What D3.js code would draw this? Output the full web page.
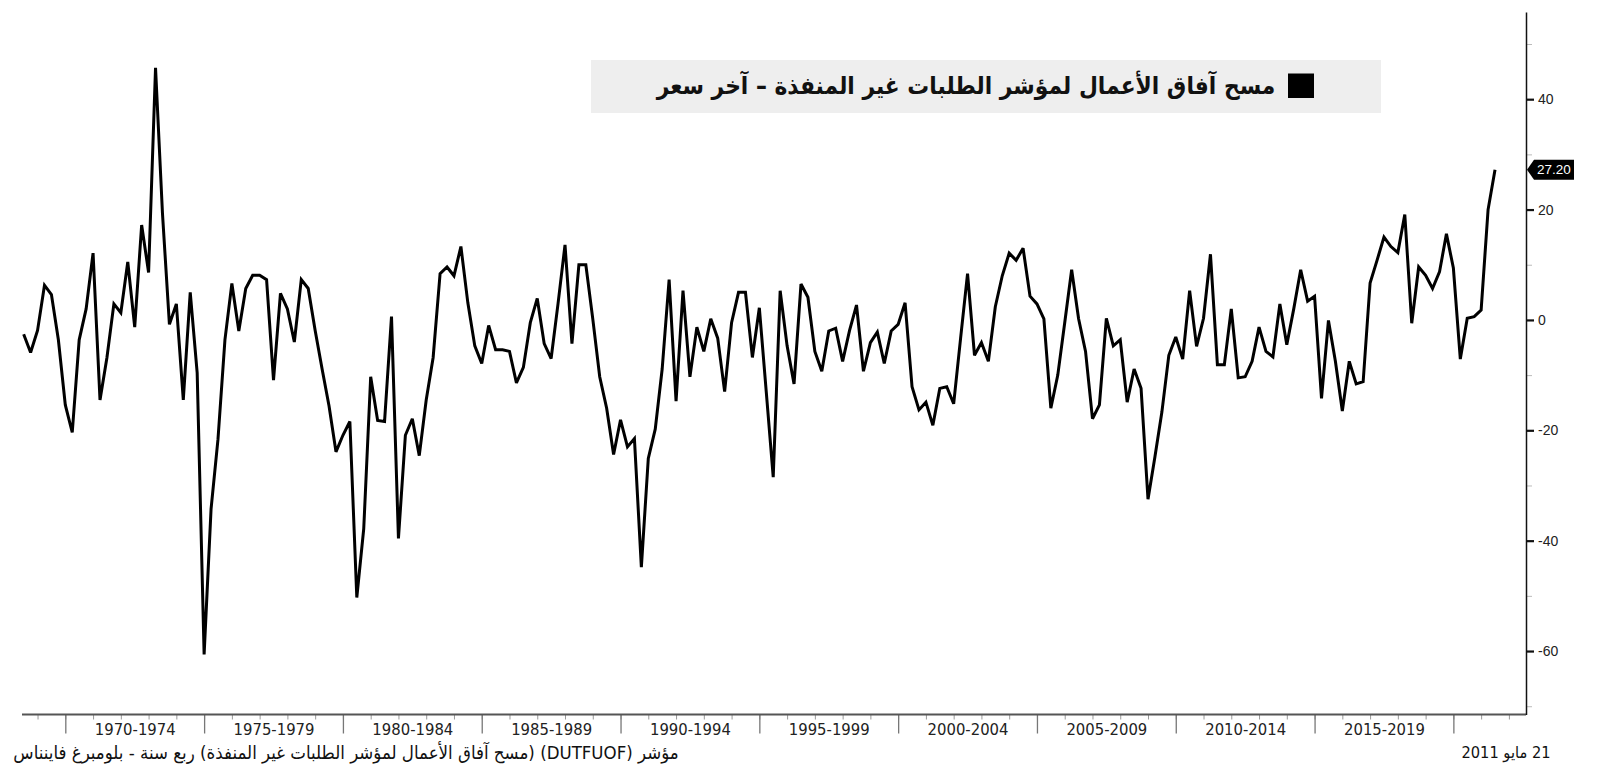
<!DOCTYPE html>
<html><head><meta charset="utf-8">
<script src="https://cdn.jsdelivr.net/npm/d3@7"></script>
<style>body{margin:0;background:#fff;} svg{display:block;}</style>
</head><body>
<svg id="c" width="1600" height="768"></svg>
<script>
// Quarterly series, first point = 1968 Q3
const startYear = 1968, startQuarter = 3;
const values1968_1975 = [-2.6, -5.9, -1.9, 6.3, 4.6, -3.6, -15.4, -20.4, -3.6, 2.0, 12.1, -14.5, -6.8, 2.9, 1.3, 10.5, -1.3, 17.2, 8.6, 45.7, 19.3, -0.8, 2.9, -14.5, 5.0, -9.6, -60.6];
const values1975_1981 = [-34.3, -21.6, -3.6, 6.6, -2.0, 5.7, 8.1, 8.1, 7.3, -10.9, 4.8, 2.0, -4.0, 7.3, 5.7, -1.9, -8.9, -15.6, -23.9, -20.9, -18.4, -50.3, -37.8, -10.3, -18.2, -18.4];
const values1981_1988 = [0.6, -39.6, -20.9, -17.9, -24.6, -14.5, -6.8, 8.4, 9.6, 8.0, 13.3, 3.1, -4.7, -7.9, -1.0, -5.4, -5.4, -5.7, -11.4, -8.6, -0.5, 3.9, -4.3, -7.0, 3.0, 13.6];
const values1988_1994 = [-4.3, 10.0, 10.0, 0.2, -10.3, -16.0, -24.4, -18.1, -23.0, -21.5, -44.8, -25.1, -19.8, -8.9, 7.3, -14.7, 5.3, -10.3, -1.3, -5.7, 0.2, -3.3, -13.0, -0.5, 5.0, 5.0];
const values1994_2001 = [-6.8, 2.2, -13.1, -28.5, 5.3, -4.7, -11.6, 6.5, 4.1, -5.7, -9.3, -2.0, -1.5, -7.5, -1.9, 2.7, -9.3, -4.1, -2.2, -7.9, -2.0, -0.8, 3.1, -12.1, -16.3, -14.9];
const values2001_2007 = [-19.1, -12.4, -12.1, -15.2, -3.3, 8.4, -6.4, -4.1, -7.5, 2.4, 8.0, 12.1, 10.8, 13.0, 4.3, 2.9, 0.2, -16.0, -10.0, -0.5, 9.1, 0.2, -5.7, -17.9, -15.4, 0.3];
const values2007_2014 = [-4.7, -3.6, -14.9, -8.9, -12.4, -32.5, -24.8, -16.7, -6.4, -3.1, -7.1, 5.3, -4.8, 0.3, 11.9, -8.1, -8.1, 2.0, -10.5, -10.3, -7.5, -1.3, -5.7, -6.7, 2.9, -4.5];
const values2014_2021 = [2.0, 9.1, 3.4, 4.3, -14.2, -0.1, -7.5, -16.5, -7.5, -11.6, -11.2, 6.7, 10.8, 15.0, 13.3, 12.2, 19.1, -0.6, 9.6, 8.1, 5.7, 8.7, 15.6, 9.4, -7.1, 0.3, 0.6, 1.8, 20.0, 27.2];

const periodStarts = [1970, 1975, 1980, 1985, 1990, 1995, 2000, 2005, 2010, 2015];
const periodLabels = ["1970-1974", "1975-1979", "1980-1984", "1985-1989", "1990-1994", "1995-1999", "2000-2004", "2005-2009", "2010-2014", "2015-2019"];
const separatorYears = [1970, 1975, 1980, 1985, 1990, 1995, 2000, 2005, 2010, 2015, 2020];
const yMajorTicks = [-60, -40, -20, 0, 20, 40];
const yMinorTicks = [-70, -50, -30, -10, 10, 30, 50];

const legendText = "مسح آفاق الأعمال لمؤشر الطلبات غير المنفذة – آخر سعر";
const sourceText = "مؤشر (DUTFUOF) (مسح آفاق الأعمال لمؤشر الطلبات غير المنفذة) ربع سنة - بلومبرغ فاينناس";
const dateText = "21 مايو 2011";

const values = [].concat(values1968_1975, values1975_1981, values1981_1988, values1988_1994,
  values1994_2001, values2001_2007, values2007_2014, values2014_2021);
const data = values.map((v, i) => ({ t: startYear + (startQuarter - 1 + i) / 4, v }));

const svg = d3.select("#c");
const x = d3.scaleLinear().domain([1968.44, 2022.58]).range([22, 1525]);
const y = d3.scaleLinear().domain([-71.5, 55.8]).range([714.5, 12]);
const axisX = 1526, axisY = 714.5;

// Legend box
svg.append("rect").attr("x", 591).attr("y", 60).attr("width", 790).attr("height", 53).attr("fill", "#eeeeee");
svg.append("rect").attr("x", 1288).attr("y", 73.5).attr("width", 26).attr("height", 24.5).attr("fill", "#000");
function fit(sel, w) {
  const l = sel.node().getComputedTextLength();
  const fs = parseFloat(sel.attr("font-size"));
  sel.attr("font-size", fs * w / l);
}
const lg = svg.append("text").attr("x", 966).attr("y", 85)
  .attr("text-anchor", "middle").attr("dominant-baseline", "central")
  .attr("direction", "rtl").style("direction", "rtl")
  .attr("font-family", "DejaVu Sans Condensed, DejaVu Sans").attr("font-weight", "bold").attr("font-size", 24)
  .attr("fill", "#111").text(legendText);
fit(lg, 619);

// Minor year ticks on bottom axis
const years = d3.range(1969, 2023);
svg.append("g").attr("transform", `translate(0,${axisY})`)
  .call(d3.axisBottom(x).tickValues(years).tickSize(5).tickFormat(""))
  .call(g => g.select(".domain").remove())
  .call(g => g.selectAll("line").attr("stroke", "#999").attr("stroke-width", 1));

// Separators
svg.append("g").attr("transform", `translate(0,${axisY})`)
  .call(d3.axisBottom(x).tickValues(separatorYears).tickSize(19).tickFormat(""))
  .call(g => g.select(".domain").remove())
  .call(g => g.selectAll("line").attr("stroke", "#777").attr("stroke-width", 1.3));

// Period labels
svg.append("g").attr("transform", `translate(0,${axisY})`)
  .call(d3.axisBottom(x).tickValues(periodStarts.map(s => s + 2.5)).tickSize(0)
    .tickFormat((d, i) => periodLabels[i]).tickPadding(9))
  .call(g => g.select(".domain").remove())
  .call(g => g.selectAll("text").attr("font-family", "DejaVu Sans Condensed, DejaVu Sans")
    .attr("font-size", 16.5).attr("fill", "#222"));

// Bottom axis line
svg.append("line").attr("x1", 22).attr("x2", axisX).attr("y1", axisY).attr("y2", axisY)
  .attr("stroke", "#555").attr("stroke-width", 2);

// Right axis minor ticks
svg.append("g").attr("transform", `translate(${axisX},0)`)
  .call(d3.axisRight(y).tickValues(yMinorTicks).tickSize(6).tickFormat(""))
  .call(g => g.select(".domain").remove())
  .call(g => g.selectAll("line").attr("stroke", "#bbb").attr("stroke-width", 1));

// Right axis major
svg.append("g").attr("transform", `translate(${axisX},0)`)
  .call(d3.axisRight(y).tickValues(yMajorTicks).tickSize(8).tickSizeOuter(0).tickPadding(4).tickFormat(d => String(d)))
  .call(g => g.select(".domain").attr("stroke", "#111").attr("stroke-width", 1.5))
  .call(g => g.selectAll(".tick line").attr("stroke", "#111").attr("stroke-width", 2.2))
  .call(g => g.selectAll("text").attr("font-family", "Liberation Sans, Arial, sans-serif")
    .attr("font-size", 14).attr("fill", "#222"));

// Series line
svg.append("path").datum(data)
  .attr("fill", "none").attr("stroke", "#000").attr("stroke-width", 3)
  .attr("stroke-linejoin", "miter").attr("stroke-miterlimit", 3)
  .attr("d", d3.line().x(d => x(d.t)).y(d => y(d.v)));

// Last value tag
const last = data[data.length - 1];
const ly = y(last.v);
svg.append("path")
  .attr("d", `M${axisX + 1},${ly} L${axisX + 8},${ly - 10} L${axisX + 48},${ly - 10} L${axisX + 48},${ly + 10} L${axisX + 8},${ly + 10} Z`)
  .attr("fill", "#000");
svg.append("text").attr("x", axisX + 28).attr("y", ly).attr("text-anchor", "middle")
  .attr("dominant-baseline", "central").attr("font-family", "Liberation Sans, Arial, sans-serif")
  .attr("font-size", 13.5).attr("fill", "#fff").text(d3.format(".2f")(last.v));

// Footer texts
const src = svg.append("text").attr("x", 346).attr("y", 752)
  .attr("text-anchor", "middle").attr("dominant-baseline", "central")
  .attr("direction", "rtl").style("direction", "rtl")
  .attr("font-family", "DejaVu Sans Condensed, DejaVu Sans").attr("font-size", 16).attr("fill", "#111").text(sourceText);
fit(src, 666);
const dt = svg.append("text").attr("x", 1506).attr("y", 752)
  .attr("text-anchor", "middle").attr("dominant-baseline", "central")
  .attr("direction", "rtl").style("direction", "rtl")
  .attr("font-family", "DejaVu Sans Condensed, DejaVu Sans").attr("font-size", 16).attr("fill", "#111").text(dateText);
fit(dt, 89);
</script>
</body></html>
